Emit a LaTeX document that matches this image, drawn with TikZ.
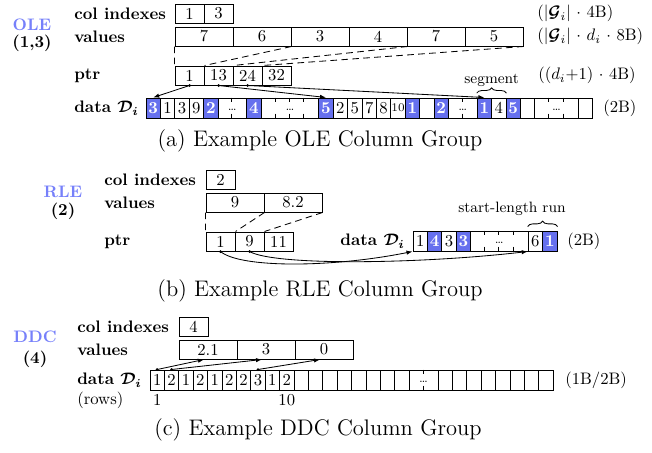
\documentclass[tikz,border=0pt]{standalone}
\usepackage{amsmath}
\usetikzlibrary{arrows.meta,decorations.pathreplacing}

\definecolor{cntblue}{RGB}{102,112,238}
\definecolor{encblue}{RGB}{118,128,250}

\tikzset{
  rowlabel/.style={anchor=west, inner sep=0pt, font=\bfseries\boldmath},
  enclabel/.style={inner sep=0pt, text=encblue, font=\bfseries},
  grplabel/.style={inner sep=0pt, font=\bfseries},
  sizelabel/.style={anchor=west, inner sep=0pt},
  subcap/.style={inner sep=0pt, font=\fontsize{13.5}{16}\selectfont},
  arrbox/.style={draw, rectangle, inner sep=0pt, line width=0.6pt,
    minimum width=17.4pt, minimum height=11.4pt},
  valbox/.style={arrbox, minimum width=34.8pt},
  dcell/.style={draw, rectangle, inner sep=0pt, line width=0.6pt,
    minimum width=8.64pt, minimum height=12pt},
  cntcell/.style={dcell, fill=cntblue, text=white, font=\bfseries},
  gapcell/.style={dcell, font=\scriptsize, text height=2.6pt, text depth=0pt},
  gapmark/.style={line width=0.6pt, dash pattern=on 2.4pt off 7.2pt},
  expand/.style={line width=0.5pt, dash pattern=on 4pt off 2.6pt},
  ptrarrow/.style={line width=0.5pt, -{Latex[length=3.6pt,width=2.6pt]}},
  segbrace/.style={decorate, decoration={brace, amplitude=3.2pt}, line width=0.5pt},
}

\begin{document}
\begin{tikzpicture}[x=0.6pt,y=-0.6pt]
\useasboundingbox (0,0) rectangle (652,452);

% ---------------- (a) OLE column group ----------------
\node[enclabel] (ole-name) at (32,25) {OLE};
\node[grplabel] (ole-cols) at (32,43) {(1,3)};
\node[rowlabel] (ole-lc) at (74,13.5) {col indexes};
\node[rowlabel] (ole-lv) at (74,36.5) {values};
\node[rowlabel] (ole-lp) at (74,75.5) {ptr};
\node[rowlabel] (ole-ld) at (74,108) {data $\mathcal{D}_i$};

% col indexes, values, ptr
\foreach \v [count=\i] in {1,3}
  \node[arrbox] (ole-c\i) at ({175+29*(\i-0.5)},13.5) {\v};
\foreach \v [count=\i] in {7,6,3,4,7,5}
  \node[valbox] (ole-v\i) at ({175+58*(\i-0.5)},36.5) {\v};
\foreach \v [count=\i] in {1,13,24,32}
  \node[arrbox] (ole-p\i) at ({175+29*(\i-0.5)},75.5) {\v};

% tuple boundaries down to ptr
\draw[expand] (ole-v1.south west) -- (ole-p1.north west);
\draw[expand] (ole-v2.south east) -- (ole-p1.north east);
\draw[expand] (ole-v4.south east) -- (ole-p2.north east);
\draw[expand] (ole-v6.south east) -- (ole-p3.north east);

% data cells
\foreach \i/\v in {0/3,4/2,7/4,12/5,18/1,20/2,23/1,25/5}
  \node[cntcell] (ole-d\i) at ({146+14.4*(\i+0.5)},108) {\v};
\foreach \i/\v in {1/1,2/3,3/9,13/2,14/5,15/7,16/8,17/{\scriptsize 10},19/{},24/4,26/{},30/{}}
  \node[dcell] (ole-d\i) at ({146+14.4*(\i+0.5)},108) {\v};
\foreach \i/\n in {5/2,8/4,21/2,27/3}{
  \node[gapcell, minimum width=\n*8.64pt] (ole-g\i) at ({146+14.4*(\i+\n/2)},108) {\dots};
  \pgfmathtruncatemacro\m{\n-1}
  \foreach \k in {1,...,\m}
    \draw[gapmark] ([xshift=\k*8.64pt]ole-g\i.north west) -- ([xshift=\k*8.64pt]ole-g\i.south west);
}

% ptr into data
\foreach \p/\d in {1/0,2/12,3/23}{
  \fill (ole-p\p.south) circle (0.9pt);
  \draw[ptrarrow] (ole-p\p.south) -- (ole-d\d.north);
}
\draw[segbrace] ([yshift=2.6pt]ole-d23.north west) -- ([yshift=2.6pt]ole-d24.north east)
  node[midway, above=3.6pt, inner sep=0pt, font=\small] (ole-seg) {segment};

% sizes
\node[sizelabel] (ole-sc) at (537,13.5) {($|\boldsymbol{\mathcal{G}}_i|$ $\cdot$ 4B)};
\node[sizelabel] (ole-sv) at (537,36.5) {($|\boldsymbol{\mathcal{G}}_i|$ $\cdot$ $d_i$ $\cdot$ 8B)};
\node[sizelabel] (ole-sp) at (538,75.5) {(($d_i$+1) $\cdot$ 4B)};
\node[sizelabel] (ole-sd) at (603,108) {(2B)};

\node[subcap] (ole-cap) at (320,141) {(a) Example OLE Column Group};

% ---------------- (b) RLE column group ----------------
\node[enclabel] (rle-name) at (63,192) {RLE};
\node[grplabel] (rle-cols) at (63,211) {(2)};
\node[rowlabel] (rle-lc) at (104,179.5) {col indexes};
\node[rowlabel] (rle-lv) at (104,202.5) {values};
\node[rowlabel] (rle-lp) at (104,241.5) {ptr};

\node[arrbox] (rle-c1) at (220.5,179.5) {2};
\foreach \v [count=\i] in {9,8.2}
  \node[valbox] (rle-v\i) at ({206+58*(\i-0.5)},202.5) {\v};
\foreach \v [count=\i] in {1,9,11}
  \node[arrbox] (rle-p\i) at ({206+29*(\i-0.5)},241.5) {\v};

\draw[expand] (rle-v1.south west) -- (rle-p1.north west);
\draw[expand] (rle-v1.south east) -- (rle-p1.north east);
\draw[expand] (rle-v2.south east) -- (rle-p2.north east);

% data cells
\node[rowlabel, anchor=east] (rle-ld) at (405,241) {data $\mathcal{D}_i$};
\foreach \i/\v in {1/4,3/3,9/1}
  \node[cntcell] (rle-d\i) at ({413+14.4*(\i+0.5)},241) {\v};
\foreach \i/\v in {0/1,2/3,8/6}
  \node[dcell] (rle-d\i) at ({413+14.4*(\i+0.5)},241) {\v};
\node[gapcell, minimum width=4*8.64pt] (rle-g4) at ({413+14.4*6},241) {\dots};
\foreach \k in {1,2,3}
  \draw[gapmark] ([xshift=\k*8.64pt]rle-g4.north west) -- ([xshift=\k*8.64pt]rle-g4.south west);

% ptr into data
\fill (rle-p1.south) circle (0.9pt);
\draw[ptrarrow] (rle-p1.south) .. controls (240,268) and (330,268) .. (rle-d0.south west);
\fill (rle-p2.south) circle (0.9pt);
\draw[ptrarrow] (rle-p2.south) .. controls (275,266) and (420,264) .. (rle-d8.south west);
\draw[segbrace] ([yshift=2.4pt]rle-d8.north west) -- ([yshift=2.4pt]rle-d9.north east);
\node[font=\small, inner sep=0pt] (rle-run) at (512,209) {start-length run};

\node[sizelabel] (rle-sd) at (567,241) {(2B)};

\node[subcap] (rle-cap) at (320,291) {(b) Example RLE Column Group};

% ---------------- (c) DDC column group ----------------
\node[enclabel] (ddc-name) at (35,337) {DDC};
\node[grplabel] (ddc-cols) at (35,359) {(4)};
\node[rowlabel] (ddc-lc) at (77,326.5) {col indexes};
\node[rowlabel] (ddc-lv) at (77,349.5) {values};
\node[rowlabel] (ddc-ld) at (77,380) {data $\mathcal{D}_i$};
\node[sizelabel] (ddc-lr) at (77,400) {(rows)};

\node[arrbox] (ddc-c1) at (193.5,326.5) {4};
\foreach \v [count=\i] in {2.1,3,0}
  \node[valbox] (ddc-v\i) at ({179+58*(\i-0.5)},349.5) {\v};

% data cells
\foreach \v [count=\j] in {1,2,1,2,1,2,2,3,1,2}{
  \pgfmathtruncatemacro\i{\j-1}
  \node[dcell] (ddc-d\i) at ({150+14.4*(\i+0.5)},380) {\v};
}
\foreach \i in {10,...,17,20,21,...,27}
  \node[dcell] (ddc-d\i) at ({150+14.4*(\i+0.5)},380) {};
\node[gapcell, minimum width=2*8.64pt] (ddc-g18) at ({150+14.4*19},380) {\dots};
\draw[gapmark] ([xshift=8.64pt]ddc-g18.north west) -- ([xshift=8.64pt]ddc-g18.south west);

% codes into values
\foreach \d/\v in {0/1,1/2,7/3}{
  \fill (ddc-d\d.north) circle (0.9pt);
  \draw[ptrarrow] (ddc-d\d.north) -- ([xshift=-2.4pt]ddc-v\v.south);
}

\node[inner sep=0pt] (ddc-r1) at (157.2,400) {1};
\node[inner sep=0pt] (ddc-r10) at (286.8,400) {10};
\node[sizelabel] (ddc-sd) at (565,380) {(1B/2B)};

\node[subcap] (ddc-cap) at (318,430) {(c) Example DDC Column Group};

\end{tikzpicture}
\end{document}
